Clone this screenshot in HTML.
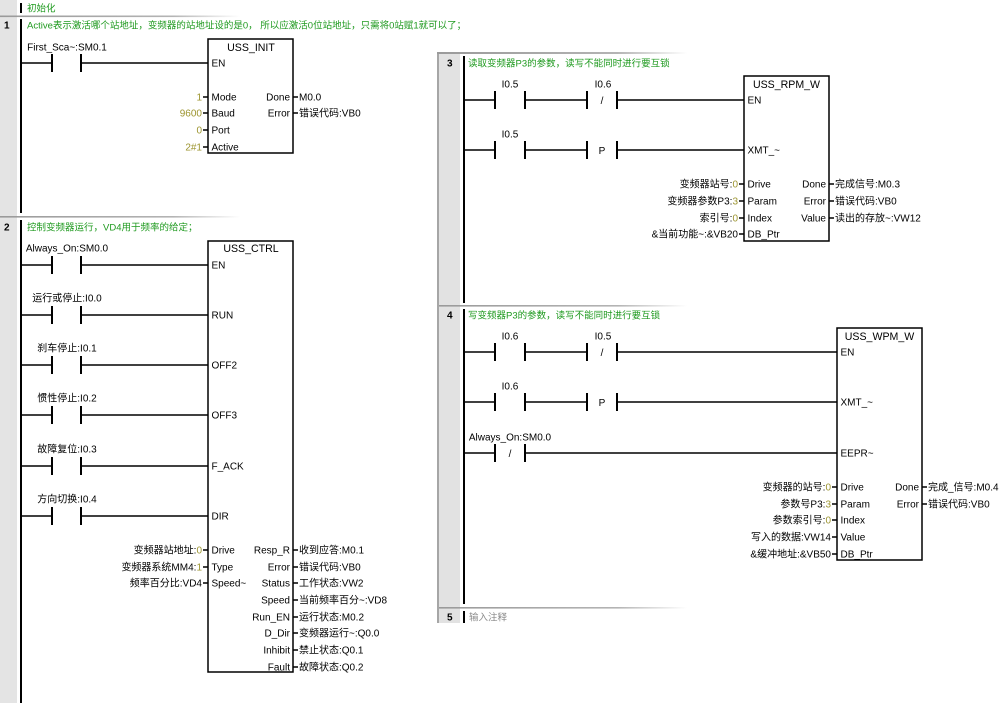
<!DOCTYPE html>
<html><head><meta charset="utf-8">
<style>
html,body{margin:0;padding:0;background:#fff;width:1000px;height:703px;overflow:hidden}
svg{display:block}
text{font-family:"Liberation Sans","Noto Sans CJK SC",sans-serif;font-size:10px;fill:#000}
.g{fill:#1f9a1f;font-size:9.5px}
.gr{fill:#8a8a8a;font-size:9.5px}
.c{fill:#9d9530}
.b{font-weight:bold}
.ttl{font-size:10.6px}
.r{stroke:#000;stroke-width:2;fill:none}
.w{stroke:#000;stroke-width:1.5;fill:none}
</style></head><body>
<svg width="1000" height="703" viewBox="0 0 1000 703" xmlns="http://www.w3.org/2000/svg">
<defs>
<linearGradient id="fd" x1="0" x2="1" y1="0" y2="0">
<stop offset="0" stop-color="#9a9a9a"/>
<stop offset="0.72" stop-color="#b4b4b4"/>
<stop offset="1" stop-color="#ffffff"/>
</linearGradient>
</defs>

<!-- ================= LEFT PANEL ================= -->
<rect x="0" y="0" width="17" height="703" fill="#e4e4e4"/>
<rect x="0" y="15.5" width="240" height="1.6" fill="url(#fd)"/>
<line class="r" x1="21" y1="3" x2="21" y2="13"/>
<text class="g" x="27" y="11.6">初始化</text>

<!-- Network 1 -->
<text class="b" x="4" y="28.6">1</text>
<text class="g" x="27" y="28.6">Active表示激活哪个站地址，变频器的站地址设的是0， 所以应激活0位站地址，只需将0站赋1就可以了；</text>
<line class="r" x1="21" y1="19" x2="21" y2="213"/>
<text x="67" y="50.6" text-anchor="middle">First_Sca~:SM0.1</text>
<line class="w" x1="21" y1="63" x2="52" y2="63"/>
<line class="r" x1="52" y1="54" x2="52" y2="72"/>
<line class="r" x1="81" y1="54" x2="81" y2="72"/>
<line class="w" x1="81" y1="63" x2="208" y2="63"/>
<rect class="w" x="208" y="39" width="85" height="114"/>
<text class="ttl" x="251" y="50.8" text-anchor="middle">USS_INIT</text>
<text x="211.5" y="66.6">EN</text>
<g>
<line class="w" x1="203" y1="97" x2="208" y2="97"/>
<line class="w" x1="203" y1="113" x2="208" y2="113"/>
<line class="w" x1="203" y1="130" x2="208" y2="130"/>
<line class="w" x1="203" y1="147" x2="208" y2="147"/>
<text class="c" x="202" y="100.6" text-anchor="end">1</text>
<text class="c" x="202" y="116.6" text-anchor="end">9600</text>
<text class="c" x="202" y="133.6" text-anchor="end">0</text>
<text class="c" x="202" y="150.6" text-anchor="end">2#1</text>
<text x="211.5" y="100.6">Mode</text>
<text x="211.5" y="116.6">Baud</text>
<text x="211.5" y="133.6">Port</text>
<text x="211.5" y="150.6">Active</text>
<text x="290" y="100.6" text-anchor="end">Done</text>
<text x="290" y="116.6" text-anchor="end">Error</text>
<line class="w" x1="293" y1="97" x2="298" y2="97"/>
<line class="w" x1="293" y1="113" x2="298" y2="113"/>
<text x="299" y="100.6">M0.0</text>
<text x="299" y="116.6">错误代码:VB0</text>
</g>

<!-- Network 2 -->
<rect x="0" y="216" width="240" height="1.6" fill="url(#fd)"/>
<text class="b" x="4" y="230.6">2</text>
<text class="g" x="27" y="230.6">控制变频器运行，VD4用于频率的给定；</text>
<line class="r" x1="21" y1="220" x2="21" y2="703"/>

<text x="67" y="251.6" text-anchor="middle">Always_On:SM0.0</text>
<text x="67" y="301.6" text-anchor="middle">运行或停止:I0.0</text>
<text x="67" y="351.6" text-anchor="middle">刹车停止:I0.1</text>
<text x="67" y="401.6" text-anchor="middle">惯性停止:I0.2</text>
<text x="67" y="452.6" text-anchor="middle">故障复位:I0.3</text>
<text x="67" y="502.6" text-anchor="middle">方向切换:I0.4</text>

<g>
<line class="w" x1="21" y1="265" x2="52" y2="265"/><line class="r" x1="52" y1="256" x2="52" y2="274"/><line class="r" x1="81" y1="256" x2="81" y2="274"/><line class="w" x1="81" y1="265" x2="208" y2="265"/>
<line class="w" x1="21" y1="315" x2="52" y2="315"/><line class="r" x1="52" y1="306" x2="52" y2="324"/><line class="r" x1="81" y1="306" x2="81" y2="324"/><line class="w" x1="81" y1="315" x2="208" y2="315"/>
<line class="w" x1="21" y1="365" x2="52" y2="365"/><line class="r" x1="52" y1="356" x2="52" y2="374"/><line class="r" x1="81" y1="356" x2="81" y2="374"/><line class="w" x1="81" y1="365" x2="208" y2="365"/>
<line class="w" x1="21" y1="415" x2="52" y2="415"/><line class="r" x1="52" y1="406" x2="52" y2="424"/><line class="r" x1="81" y1="406" x2="81" y2="424"/><line class="w" x1="81" y1="415" x2="208" y2="415"/>
<line class="w" x1="21" y1="466" x2="52" y2="466"/><line class="r" x1="52" y1="457" x2="52" y2="475"/><line class="r" x1="81" y1="457" x2="81" y2="475"/><line class="w" x1="81" y1="466" x2="208" y2="466"/>
<line class="w" x1="21" y1="516" x2="52" y2="516"/><line class="r" x1="52" y1="507" x2="52" y2="525"/><line class="r" x1="81" y1="507" x2="81" y2="525"/><line class="w" x1="81" y1="516" x2="208" y2="516"/>
</g>

<rect class="w" x="208" y="241" width="85" height="431"/>
<text class="ttl" x="251" y="251.8" text-anchor="middle">USS_CTRL</text>
<text x="211.5" y="268.6">EN</text>
<text x="211.5" y="318.6">RUN</text>
<text x="211.5" y="368.6">OFF2</text>
<text x="211.5" y="418.6">OFF3</text>
<text x="211.5" y="469.6">F_ACK</text>
<text x="211.5" y="519.6">DIR</text>

<line class="w" x1="203" y1="550" x2="208" y2="550"/>
<line class="w" x1="203" y1="567" x2="208" y2="567"/>
<line class="w" x1="203" y1="583" x2="208" y2="583"/>
<text x="202" y="553.6" text-anchor="end">变频器站地址:<tspan class="c">0</tspan></text>
<text x="202" y="570.6" text-anchor="end">变频器系统MM4:<tspan class="c">1</tspan></text>
<text x="202" y="586.6" text-anchor="end">频率百分比:VD4</text>
<text x="211.5" y="553.6">Drive</text>
<text x="211.5" y="570.6">Type</text>
<text x="211.5" y="586.6">Speed~</text>

<text x="290" y="553.6" text-anchor="end">Resp_R</text>
<text x="290" y="570.6" text-anchor="end">Error</text>
<text x="290" y="586.6" text-anchor="end">Status</text>
<text x="290" y="603.6" text-anchor="end">Speed</text>
<text x="290" y="620.6" text-anchor="end">Run_EN</text>
<text x="290" y="636.6" text-anchor="end">D_Dir</text>
<text x="290" y="653.6" text-anchor="end">Inhibit</text>
<text x="290" y="670.6" text-anchor="end">Fault</text>
<g>
<line class="w" x1="293" y1="550" x2="298" y2="550"/>
<line class="w" x1="293" y1="567" x2="298" y2="567"/>
<line class="w" x1="293" y1="583" x2="298" y2="583"/>
<line class="w" x1="293" y1="600" x2="298" y2="600"/>
<line class="w" x1="293" y1="617" x2="298" y2="617"/>
<line class="w" x1="293" y1="633" x2="298" y2="633"/>
<line class="w" x1="293" y1="650" x2="298" y2="650"/>
<line class="w" x1="293" y1="667" x2="298" y2="667"/>
</g>
<text x="299" y="553.6">收到应答:M0.1</text>
<text x="299" y="570.6">错误代码:VB0</text>
<text x="299" y="586.6">工作状态:VW2</text>
<text x="299" y="603.6">当前频率百分~:VD8</text>
<text x="299" y="620.6">运行状态:M0.2</text>
<text x="299" y="636.6">变频器运行~:Q0.0</text>
<text x="299" y="653.6">禁止状态:Q0.1</text>
<text x="299" y="670.6">故障状态:Q0.2</text>

<!-- ================= RIGHT PANEL ================= -->
<rect x="437" y="52" width="563" height="571" fill="#fff"/>
<rect x="439" y="54" width="21" height="569" fill="#e2e2e2"/>
<rect x="437" y="52" width="2" height="571" fill="#a6a6a6"/>
<rect x="437" y="52" width="250" height="2" fill="url(#fd)"/>

<!-- Network 3 -->
<text class="b" x="447" y="66.6">3</text>
<text class="g" x="468" y="66.6">读取变频器P3的参数，读写不能同时进行要互锁</text>
<line class="r" x1="464" y1="56" x2="464" y2="303"/>

<text x="510" y="87.6" text-anchor="middle">I0.5</text>
<text x="603" y="87.6" text-anchor="middle">I0.6</text>
<line class="w" x1="464" y1="100" x2="495" y2="100"/>
<line class="r" x1="495" y1="91" x2="495" y2="109"/>
<line class="r" x1="525" y1="91" x2="525" y2="109"/>
<line class="w" x1="525" y1="100" x2="587" y2="100"/>
<line class="r" x1="587" y1="91" x2="587" y2="109"/>
<text x="602" y="104" text-anchor="middle">/</text>
<line class="r" x1="617" y1="91" x2="617" y2="109"/>
<line class="w" x1="617" y1="100" x2="744" y2="100"/>

<text x="510" y="137.6" text-anchor="middle">I0.5</text>
<line class="w" x1="464" y1="150" x2="495" y2="150"/>
<line class="r" x1="495" y1="141" x2="495" y2="159"/>
<line class="r" x1="525" y1="141" x2="525" y2="159"/>
<line class="w" x1="525" y1="150" x2="587" y2="150"/>
<line class="r" x1="587" y1="141" x2="587" y2="159"/>
<text x="602" y="154" text-anchor="middle">P</text>
<line class="r" x1="617" y1="141" x2="617" y2="159"/>
<line class="w" x1="617" y1="150" x2="744" y2="150"/>

<rect class="w" x="744" y="76" width="85" height="165"/>
<text class="ttl" x="786.5" y="87.8" text-anchor="middle">USS_RPM_W</text>
<text x="747.5" y="103.6">EN</text>
<text x="747.5" y="153.6">XMT_~</text>
<text x="747.5" y="187.6">Drive</text>
<text x="747.5" y="204.6">Param</text>
<text x="747.5" y="221.6">Index</text>
<text x="747.5" y="237.6">DB_Ptr</text>
<line class="w" x1="739" y1="184" x2="744" y2="184"/>
<line class="w" x1="739" y1="201" x2="744" y2="201"/>
<line class="w" x1="739" y1="218" x2="744" y2="218"/>
<line class="w" x1="739" y1="234" x2="744" y2="234"/>
<text x="738" y="187.6" text-anchor="end">变频器站号:<tspan class="c">0</tspan></text>
<text x="738" y="204.6" text-anchor="end">变频器参数P3:<tspan class="c">3</tspan></text>
<text x="738" y="221.6" text-anchor="end">索引号:<tspan class="c">0</tspan></text>
<text x="738" y="237.6" text-anchor="end">&amp;当前功能~:&amp;VB20</text>
<text x="826" y="187.6" text-anchor="end">Done</text>
<text x="826" y="204.6" text-anchor="end">Error</text>
<text x="826" y="221.6" text-anchor="end">Value</text>
<line class="w" x1="829" y1="184" x2="834" y2="184"/>
<line class="w" x1="829" y1="201" x2="834" y2="201"/>
<line class="w" x1="829" y1="218" x2="834" y2="218"/>
<text x="835" y="187.6">完成信号:M0.3</text>
<text x="835" y="204.6">错误代码:VB0</text>
<text x="835" y="221.6">读出的存放~:VW12</text>

<!-- Network 4 -->
<rect x="439" y="305" width="248" height="1.6" fill="url(#fd)"/>
<text class="b" x="447" y="318.6">4</text>
<text class="g" x="468" y="318.6">写变频器P3的参数，读写不能同时进行要互锁</text>
<line class="r" x1="464" y1="309" x2="464" y2="604"/>

<text x="510" y="339.6" text-anchor="middle">I0.6</text>
<text x="603" y="339.6" text-anchor="middle">I0.5</text>
<line class="w" x1="464" y1="352" x2="495" y2="352"/>
<line class="r" x1="495" y1="343" x2="495" y2="361"/>
<line class="r" x1="525" y1="343" x2="525" y2="361"/>
<line class="w" x1="525" y1="352" x2="587" y2="352"/>
<line class="r" x1="587" y1="343" x2="587" y2="361"/>
<text x="602" y="356" text-anchor="middle">/</text>
<line class="r" x1="617" y1="343" x2="617" y2="361"/>
<line class="w" x1="617" y1="352" x2="837" y2="352"/>

<text x="510" y="389.6" text-anchor="middle">I0.6</text>
<line class="w" x1="464" y1="402" x2="495" y2="402"/>
<line class="r" x1="495" y1="393" x2="495" y2="411"/>
<line class="r" x1="525" y1="393" x2="525" y2="411"/>
<line class="w" x1="525" y1="402" x2="587" y2="402"/>
<line class="r" x1="587" y1="393" x2="587" y2="411"/>
<text x="602" y="406" text-anchor="middle">P</text>
<line class="r" x1="617" y1="393" x2="617" y2="411"/>
<line class="w" x1="617" y1="402" x2="837" y2="402"/>

<text x="510" y="440.6" text-anchor="middle">Always_On:SM0.0</text>
<line class="w" x1="464" y1="453" x2="495" y2="453"/>
<line class="r" x1="495" y1="444" x2="495" y2="462"/>
<text x="510" y="457" text-anchor="middle">/</text>
<line class="r" x1="525" y1="444" x2="525" y2="462"/>
<line class="w" x1="525" y1="453" x2="837" y2="453"/>

<rect class="w" x="837" y="328" width="85" height="232"/>
<text class="ttl" x="879.5" y="339.8" text-anchor="middle">USS_WPM_W</text>
<text x="840.5" y="355.6">EN</text>
<text x="840.5" y="405.6">XMT_~</text>
<text x="840.5" y="456.6">EEPR~</text>
<text x="840.5" y="490.6">Drive</text>
<text x="840.5" y="507.6">Param</text>
<text x="840.5" y="523.6">Index</text>
<text x="840.5" y="540.6">Value</text>
<text x="840.5" y="557.6">DB_Ptr</text>
<line class="w" x1="832" y1="487" x2="837" y2="487"/>
<line class="w" x1="832" y1="504" x2="837" y2="504"/>
<line class="w" x1="832" y1="520" x2="837" y2="520"/>
<line class="w" x1="832" y1="537" x2="837" y2="537"/>
<line class="w" x1="832" y1="554" x2="837" y2="554"/>
<text x="831" y="490.6" text-anchor="end">变频器的站号:<tspan class="c">0</tspan></text>
<text x="831" y="507.6" text-anchor="end">参数号P3:<tspan class="c">3</tspan></text>
<text x="831" y="523.6" text-anchor="end">参数索引号:<tspan class="c">0</tspan></text>
<text x="831" y="540.6" text-anchor="end">写入的数据:VW14</text>
<text x="831" y="557.6" text-anchor="end">&amp;缓冲地址:&amp;VB50</text>
<text x="919" y="490.6" text-anchor="end">Done</text>
<text x="919" y="507.6" text-anchor="end">Error</text>
<line class="w" x1="922" y1="487" x2="927" y2="487"/>
<line class="w" x1="922" y1="504" x2="927" y2="504"/>
<text x="928" y="490.6">完成_信号:M0.4</text>
<text x="928" y="507.6">错误代码:VB0</text>

<!-- Network 5 -->
<rect x="439" y="607" width="248" height="1.6" fill="url(#fd)"/>
<text class="b" x="447" y="620.6">5</text>
<line class="r" x1="464" y1="611" x2="464" y2="623"/>
<text class="gr" x="469" y="620.6">输入注释</text>
</svg>
</body></html>
